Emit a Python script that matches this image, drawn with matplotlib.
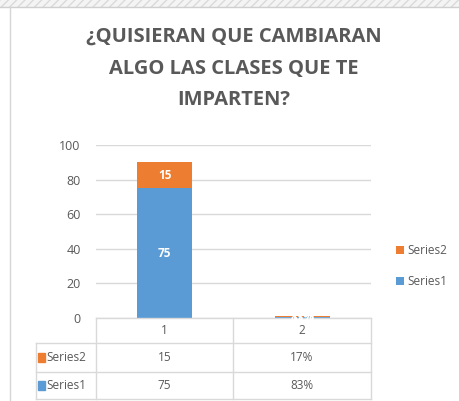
import matplotlib

matplotlib.use("Agg")

import matplotlib.pyplot as plt
from matplotlib.patches import Rectangle

categories = ["1", "2"]
series1 = [75, 0.83]
series2 = [15, 0.17]
series1_labels = ["75", "83%"]
series2_labels = ["15", "17%"]
series_names = ["Series1", "Series2"]
title = "¿QUISIERAN QUE CAMBIARAN\nALGO LAS CLASES QUE TE\nIMPARTEN?"

BLUE = "#5B9BD5"
ORANGE = "#ED7D31"
GREY_TXT = "#595959"
GRID = "#D9D9D9"

plt.rcParams["font.family"] = ["Open Sans", "DejaVu Sans"]

W, H = 459, 401
fig = plt.figure(figsize=(W / 100, H / 100), dpi=100)


def fx(px):
    return px / W


def fy(py):
    return 1 - py / H


# hatched frame at top and chart border
fig.patches.append(Rectangle((0, fy(7)), 1, 7 / H, transform=fig.transFigure,
                             facecolor="#F4F4F4", edgecolor="#DADADA", hatch="////",
                             linewidth=0))
fig.add_artist(plt.Line2D([0, 1], [fy(7), fy(7)], color="#CFCFCF", lw=1))
fig.add_artist(plt.Line2D([fx(9.5), fx(9.5)], [0, fy(7)], color="#D6D6D6", lw=1))

fig.text(fx(234), fy(27), title, ha="center", va="top", fontsize=14.5,
         fontweight="bold", color=GREY_TXT, linespacing=1.78)

ax = fig.add_axes([fx(96), fy(318), fx(371) - fx(96), fy(145) - fy(318)])
x = range(len(categories))
b1 = ax.bar(x, series1, width=0.4, color=BLUE, label=series_names[0])
b2 = ax.bar(x, series2, width=0.4, bottom=series1, color=ORANGE, label=series_names[1])
ax.bar_label(b1, labels=series1_labels, label_type="center", color="white",
             fontsize=8.5, fontweight="bold")
ax.bar_label(b2, labels=series2_labels, label_type="center", color="white",
             fontsize=8.5, fontweight="bold")
ax.set_xlim(-0.5, 1.5)
ax.set_ylim(0, 100)
ax.set_yticks(range(0, 101, 20))
ax.tick_params(axis="y", length=0, labelsize=9, labelcolor=GREY_TXT, pad=11)
ax.set_xticks([])
ax.yaxis.grid(True, color=GRID, lw=1)
ax.set_axisbelow(True)
for s in ax.spines.values():
    s.set_visible(False)

handles, labels = ax.get_legend_handles_labels()
fig.legend(handles[::-1], labels[::-1], loc="center left",
           bbox_to_anchor=(fx(385), fy(266)), frameon=False, fontsize=8.5,
           handlelength=0.7, handleheight=0.7, handletextpad=0.3,
           labelspacing=1.5, labelcolor=GREY_TXT)

# data table below the axis
t = ax.transAxes


def ay(py):
    return (318 - py) / 173.0


def ax_x(px):
    return (px - 96) / 275.0


col_x = [ax_x(36), ax_x(96), ax_x(233), ax_x(371)]
row_y = [ay(318), ay(343), ay(372), ay(399)]
line_kw = dict(color=GRID, lw=1, transform=t, clip_on=False)
ax.plot([col_x[1], col_x[3]], [row_y[0], row_y[0]], **line_kw)
for yy in row_y[1:]:
    ax.plot([col_x[0], col_x[3]], [yy, yy], **line_kw)
ax.plot([col_x[0], col_x[0]], [row_y[1], row_y[3]], **line_kw)
for xx in col_x[1:]:
    ax.plot([xx, xx], [row_y[0], row_y[3]], **line_kw)

txt_kw = dict(transform=t, ha="center", va="center", fontsize=8.5, color=GREY_TXT,
              clip_on=False)
for i, cat in enumerate(categories):
    cx = (col_x[i + 1] + col_x[i + 2]) / 2
    ax.text(cx, (row_y[0] + row_y[1]) / 2, cat, **txt_kw)
    ax.text(cx, (row_y[1] + row_y[2]) / 2, series2_labels[i], **txt_kw)
    ax.text(cx, (row_y[2] + row_y[3]) / 2, series1_labels[i], **txt_kw)

for r, (name, col) in enumerate([(series_names[1], ORANGE), (series_names[0], BLUE)]):
    yc = (row_y[r + 1] + row_y[r + 2]) / 2
    ax.add_patch(Rectangle((ax_x(38), yc - 4.5 / 173), 7 / 275, 9 / 173,
                           transform=t, color=col, clip_on=False))
    ax.text(ax_x(46), yc, name, transform=t, ha="left", va="center",
            fontsize=8.5, color=GREY_TXT, clip_on=False)

fig.savefig("out.png", dpi=100)
